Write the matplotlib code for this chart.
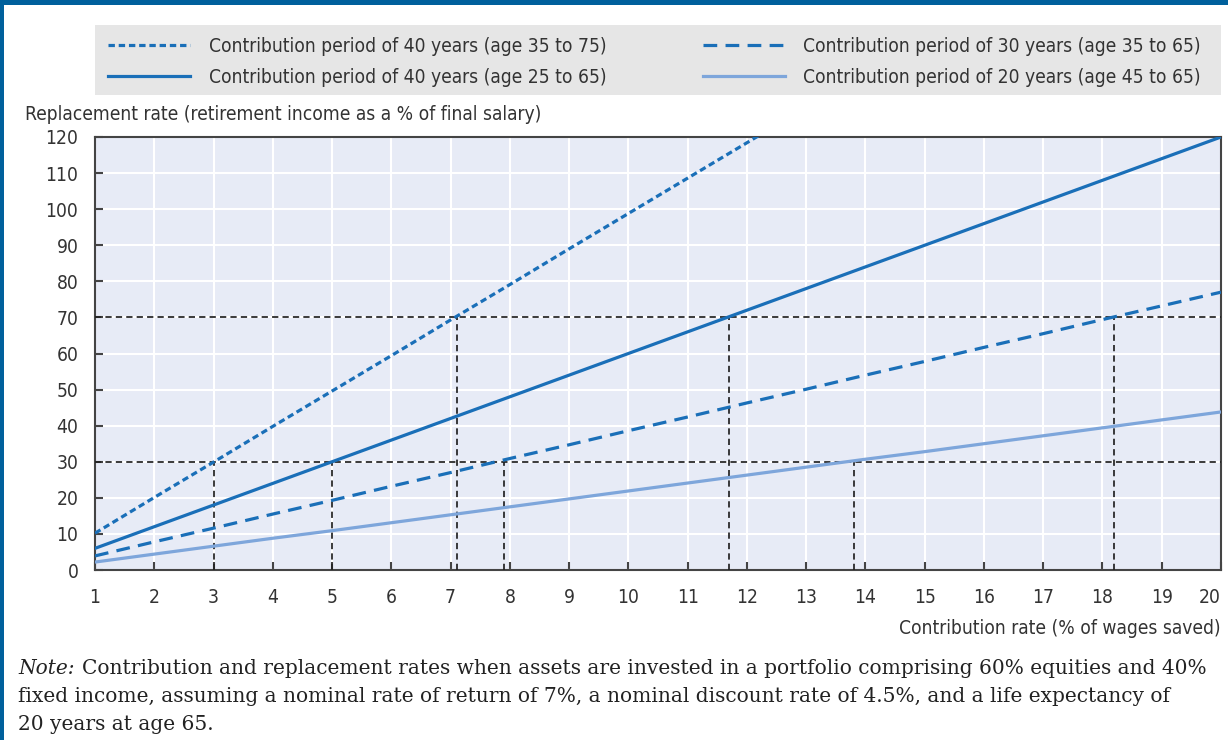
import matplotlib
matplotlib.use("Agg")
import matplotlib.pyplot as plt
from matplotlib.patches import Rectangle
from matplotlib import font_manager as fm

# ---------------- data ----------------
contribution_rate = [1, 2, 3, 4, 5, 6, 7, 8, 9, 10, 11, 12, 13, 14, 15, 16, 17, 18, 19, 20]
rate_40y_35_75 = [10.2, 20.1, 29.9, 39.8, 49.6, 59.4, 69.3, 79.1, 89.0, 98.8,
                  108.6, 118.4, 128.3]
rate_40y_25_65 = [6.0, 12.0, 18.0, 24.0, 30.0, 36.0, 42.0, 48.0, 54.0, 60.0,
                  66.0, 72.0, 78.0, 84.0, 90.0, 96.0, 102.0, 108.0, 114.0, 120.0]
rate_30y_35_65 = [3.9, 7.8, 11.6, 15.5, 19.3, 23.2, 27.0, 30.9, 34.7, 38.6,
                  42.4, 46.3, 50.1, 54.0, 57.8, 61.7, 65.5, 69.4, 73.2, 77.0]
rate_20y_45_65 = [2.2, 4.4, 6.6, 8.8, 10.9, 13.1, 15.3, 17.5, 19.7, 21.9,
                  24.1, 26.3, 28.5, 30.7, 32.8, 35.0, 37.2, 39.4, 41.6, 43.8]

target_levels = [30, 70]
crossings_at_30 = [3.0, 5.0, 7.9, 13.8]
crossings_at_70 = [7.1, 11.7, 18.2]

series_labels = [
    "Contribution period of 40 years (age 35 to 75)",
    "Contribution period of 40 years (age 25 to 65)",
    "Contribution period of 30 years (age 35 to 65)",
    "Contribution period of 20 years (age 45 to 65)",
]
y_label = "Replacement rate (retirement income as a % of final salary)"
x_label = "Contribution rate (% of wages saved)"
note_lines = [
    "Contribution and replacement rates when assets are invested in a portfolio comprising 60% equities and 40%",
    "fixed income, assuming a nominal rate of return of 7%, a nominal discount rate of 4.5%, and a life expectancy of",
    "20 years at age 65.",
]

# ---------------- style ----------------
plt.rcParams['font.family'] = ['DejaVu Sans']
plt.rcParams['font.stretch'] = 'condensed'
_cond = [f.fname for f in fm.fontManager.ttflist if 'Condensed' in f.fname and 'DejaVuSans' in f.fname]
FS = 13.8 if _cond else 12.5

W, H = 1228, 740
DARK = "#1a6fb8"
LIGHT = "#7ea6db"
TXT = "#333333"

fig = plt.figure(figsize=(W / 100, H / 100), dpi=100)
fig.patch.set_facecolor("white")

# blue frame
fig.patches.append(Rectangle((0, 1 - 5 / H), 1, 5 / H, transform=fig.transFigure,
                             facecolor="#00609c", edgecolor="none", zorder=10))
fig.patches.append(Rectangle((0, 0), 4 / W, 1, transform=fig.transFigure,
                             facecolor="#00609c", edgecolor="none", zorder=10))

L, R, T, B = 95, 1221, 137, 570
# legend background box
fig.patches.append(Rectangle((L / W, 1 - 95 / H), (R - L) / W, 70 / H,
                             transform=fig.transFigure, facecolor="#e6e6e6",
                             edgecolor="none", zorder=0))

ax = fig.add_axes([L / W, 1 - B / H, (R - L) / W, (B - T) / H])
ax.set_facecolor("#e7ebf6")

x = contribution_rate
lw = 2.3
l1, = ax.plot(x[:len(rate_40y_35_75)], rate_40y_35_75, color=DARK, lw=lw,
              dashes=(2.0, 1.2), label=series_labels[0], zorder=4)
l2, = ax.plot(x, rate_40y_25_65, color=DARK, lw=lw, label=series_labels[1], zorder=4)
l3, = ax.plot(x, rate_30y_35_65, color=DARK, lw=lw, dashes=(4.3, 2.6),
              label=series_labels[2], zorder=4)
l4, = ax.plot(x, rate_20y_45_65, color=LIGHT, lw=lw, label=series_labels[3], zorder=4)

# reference lines
ref_kw = dict(colors="#222222", linewidths=1.25, linestyles=(0, (3.6, 2.4)), zorder=3)
ax.hlines(target_levels, 1, 20, **ref_kw)
ax.vlines(crossings_at_30, 0, target_levels[0], **ref_kw)
ax.vlines(crossings_at_70, 0, target_levels[1], **ref_kw)

ax.set_xlim(1, 20)
ax.set_ylim(0, 120)
ax.set_xticks(range(1, 21))
ax.set_yticks(range(0, 121, 10))
ax.grid(True, color="white", lw=1.5, zorder=1)
ax.set_axisbelow(True)
for s in ax.spines.values():
    s.set_color("#444444")
    s.set_linewidth(1.5)
ax.tick_params(direction="in", length=6, width=1.5, color="#444444",
               labelsize=FS, labelcolor=TXT)
ax.tick_params(axis="y", pad=12)
ax.tick_params(axis="x", pad=13)
xt = ax.get_xticklabels()
xt[-1].set_horizontalalignment("right")

# legend
leg = fig.legend(handles=[l1, l2, l3, l4], loc="upper left", ncol=2, mode="expand",
                 bbox_to_anchor=((L + 13) / W, 1 - 93 / H, (R - L - 33) / W, 56 / H),
                 frameon=False, fontsize=FS, handlelength=4.3, handletextpad=0.95,
                 borderaxespad=0, borderpad=0.0, labelspacing=0.62, columnspacing=2)
for t in leg.get_texts():
    t.set_color(TXT)

fig.text(25 / W, 1 - 115 / H, y_label, ha="left", va="center", fontsize=FS, color=TXT)
fig.text(R / W, 1 - 628 / H, x_label, ha="right", va="center", fontsize=FS, color=TXT)

# note
serif = ["DejaVu Serif"]
NFS = 14.5
note_y = [668, 697, 725]
nt = fig.text(18 / W, 1 - note_y[0] / H, "Note:", family=serif, style="italic",
              stretch="normal", fontsize=NFS, color="#222222", va="center", ha="left")
r = fig.canvas.get_renderer()
bb = nt.get_window_extent(r)
fig.text((bb.x1 + 8) / W, 1 - note_y[0] / H, note_lines[0], family=serif,
         stretch="normal", fontsize=NFS, color="#222222", va="center", ha="left")
for yy, line in zip(note_y[1:], note_lines[1:]):
    fig.text(18 / W, 1 - yy / H, line, family=serif, stretch="normal",
             fontsize=NFS, color="#222222", va="center", ha="left")

fig.savefig("out.png", dpi=100)
